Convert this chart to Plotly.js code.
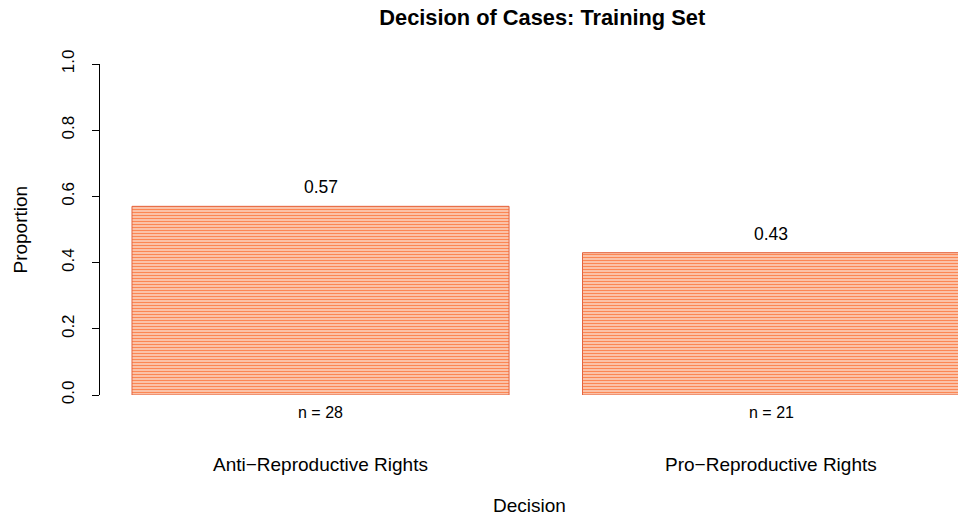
<!DOCTYPE html>
<html><head><meta charset="utf-8">
<script src="https://cdn.plot.ly/plotly-3.0.1.min.js"></script>
<style>html,body{margin:0;padding:0;background:#fff}#c{width:958px;height:520px}</style>
</head><body><div id="c"></div>
<script>
const categories = ["Anti\u2212Reproductive Rights", "Pro\u2212Reproductive Rights"];
const proportions = [0.57, 0.43];
const valueLabels = ["0.57", "0.43"];
const counts = [28, 21];
const yTicks = [0, 0.2, 0.4, 0.6, 0.8, 1.0];
const yTickText = ["0.0", "0.2", "0.4", "0.6", "0.8", "1.0"];

const xs = categories.map((c, i) => i);
const font = "Liberation Sans, Arial, Helvetica, sans-serif";

const trace = {
  type: "bar", x: xs, y: proportions, width: 0.837,
  marker: {
    color: "#FBB08E",
    line: {color: "#E4643F", width: 1},
    pattern: {shape: "-", fgcolor: "#FB8754", bgcolor: "#FCD6C4", size: 3, solidity: 0.5}
  },
  hoverinfo: "none"
};

const annotations = [];
xs.forEach((x, i) => {
  annotations.push({x: x, y: proportions[i], xref: "x", yref: "y", text: valueLabels[i], showarrow: false,
    yanchor: "middle", yshift: 19, font: {family: font, size: 17.5, color: "#000"}});
  annotations.push({x: x, y: 0, xref: "x", yref: "y", text: "n = " + counts[i], showarrow: false,
    yanchor: "middle", yshift: -17, font: {family: font, size: 16, color: "#000"}});
  annotations.push({x: x, y: 0, xref: "x", yref: "y", text: categories[i], showarrow: false,
    yanchor: "middle", yshift: -69, font: {family: font, size: 19, color: "#000"}});
});
annotations.push({x: 0.5, xref: "paper", y: 0, yref: "paper", yshift: -110, yanchor: "middle", showarrow: false,
  text: "Decision", font: {family: font, size: 19, color: "#000"}});
annotations.push({x: -0.0932, xref: "paper", y: 0.5, yref: "paper", xanchor: "center", yanchor: "middle", showarrow: false,
  textangle: -90, text: "Proportion", font: {family: font, size: 19, color: "#000"}});

const layout = {
  width: 958, height: 520,
  margin: {l: 100, r: 0, t: 64, b: 125},
  paper_bgcolor: "#fff", plot_bgcolor: "#fff",
  showlegend: false,
  title: {text: "<b>Decision of Cases: Training Set</b>", x: 0.566, xanchor: "center", y: 0.967, yanchor: "middle",
    font: {family: font, size: 21.8, color: "#000"}},
  xaxis: {range: [-0.4895, 1.415], showline: false, showgrid: false, zeroline: false, showticklabels: false,
    ticks: "", fixedrange: true},
  yaxis: {range: [0, 1], tickvals: yTicks, ticktext: yTickText, tickangle: -90, ticks: "outside", ticklen: 7,
    tickcolor: "#000", tickwidth: 1, showline: true, linecolor: "#000", linewidth: 1, showgrid: false, zeroline: false,
    tickfont: {family: font, size: 17, color: "#000"}, ticklabelstandoff: 11},
  annotations: annotations
};

Plotly.newPlot("c", [trace], layout, {displayModeBar: false, staticPlot: true});
</script></body></html>
